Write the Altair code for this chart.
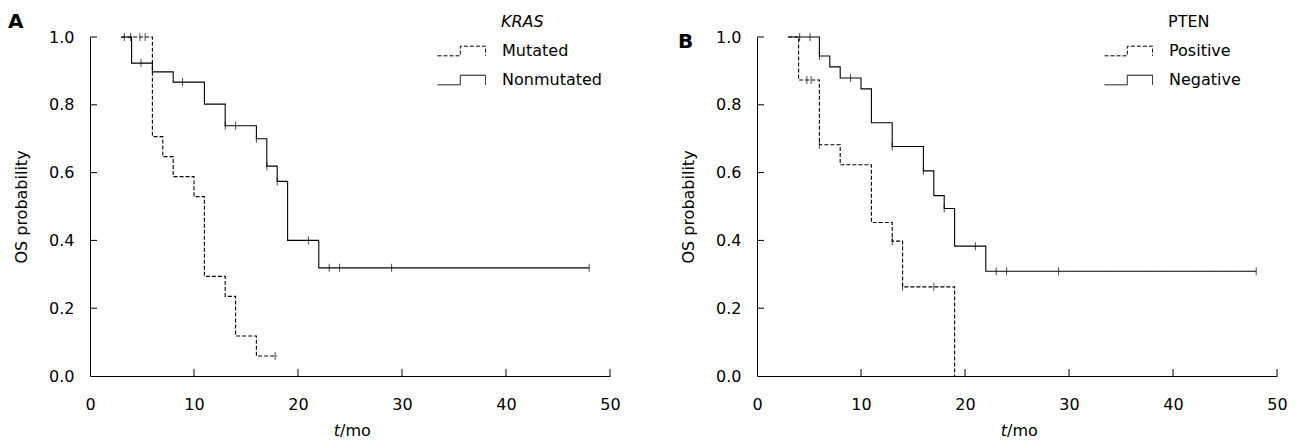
import altair as alt
import pandas as pd

# ---------------- data ----------------
X_TICKS = [0, 10, 20, 30, 40, 50]
Y_TICKS = [0.0, 0.2, 0.4, 0.6, 0.8, 1.0]
X_INNER_TICKS = [10, 20, 30, 40, 50]
Y_INNER_TICKS = [0.2, 0.4, 0.6, 0.8, 1.0]

# Panel A: KRAS
A_GROUPS = ["Mutated", "Nonmutated"]
A_MUT_T = [3, 6, 7, 8, 10, 11, 13, 14, 16, 18]
A_MUT_S = [1.0, 0.706, 0.647, 0.588, 0.529, 0.294, 0.235, 0.118, 0.059, 0.059]
A_MUT_CENS_T = [4.8, 5.3, 17.8]
A_MUT_CENS_S = [1.0, 1.0, 0.059]
A_NON_T = [3, 4, 6, 8, 11, 13, 16, 17, 18, 19, 22, 48]
A_NON_S = [1.0, 0.923, 0.897, 0.867, 0.802, 0.738, 0.700, 0.619, 0.574, 0.400, 0.319, 0.319]
A_NON_CENS_T = [3.3, 3.9, 4.9, 8.9, 13, 14, 16, 17, 18, 21, 23, 24, 29, 48]
A_NON_CENS_S = [1.0, 1.0, 0.923, 0.867, 0.738, 0.738, 0.700, 0.619, 0.574, 0.400,
                0.319, 0.319, 0.319, 0.319]

# Panel B: PTEN
B_GROUPS = ["Positive", "Negative"]
B_POS_T = [3, 4, 6, 8, 11, 13, 14, 19]
B_POS_S = [1.0, 0.873, 0.682, 0.623, 0.453, 0.398, 0.263, 0.0]
B_POS_CENS_T = [4.8, 5.2, 6, 13, 14, 17]
B_POS_CENS_S = [0.873, 0.873, 0.682, 0.398, 0.263, 0.263]
B_NEG_T = [3, 6, 7, 8, 10, 11, 13, 16, 17, 18, 19, 22, 48]
B_NEG_S = [1.0, 0.944, 0.912, 0.879, 0.847, 0.747, 0.677, 0.605, 0.532, 0.494,
           0.383, 0.309, 0.309]
B_NEG_CENS_T = [4.1, 5.1, 6, 9, 13, 16, 18, 21, 23, 24, 29, 48]
B_NEG_CENS_S = [1.0, 1.0, 0.944, 0.879, 0.677, 0.605, 0.494, 0.383, 0.309, 0.309,
                0.309, 0.309]

FONT = "DejaVu Sans"
W, H = 520, 339


def panel(letter, legend_title, title_style, groups, curves, censors):
    line_rows = []
    for name, T, S in curves:
        for t, s in zip(T, S):
            line_rows.append({"group": name, "t": t, "s": s})
    cens_rows = []
    for T, S in censors:
        for t, s in zip(T, S):
            cens_rows.append({"t": t, "s": s})
    ldf = pd.DataFrame(line_rows)
    cdf = pd.DataFrame(cens_rows)

    xs = alt.Scale(domain=[0, 50], nice=False)
    ys = alt.Scale(domain=[0, 1], nice=False)
    xax = alt.Axis(
        values=X_TICKS, ticks=False, grid=False, labelPadding=20, title=None,
        domainColor="black", labelFontSize=16, labelColor="black",
        labelFlush=False, format="d", labelFont=FONT)
    yax = alt.Axis(
        values=Y_TICKS, format=".1f", ticks=False, grid=False, labelPadding=16,
        title="OS probability", titlePadding=19, titleFontWeight="normal",
        titleFontSize=16, titleColor="black", domainColor="black",
        labelFontSize=16, labelColor="black", labelFont=FONT, titleFont=FONT)

    lines = alt.Chart(ldf).mark_line(
        interpolate="step-after", color="black", strokeWidth=1.1
    ).encode(
        x=alt.X("t:Q", scale=xs, axis=xax),
        y=alt.Y("s:Q", scale=ys, axis=yax),
        strokeDash=alt.StrokeDash("group:N", scale=alt.Scale(
            domain=groups, range=[[4, 2], [1, 0]]), legend=alt.Legend(
            title=None, orient="none", legendX=347, legendY=6,
            symbolType="M-1,0.2H-0.05V-0.2H1V0.2", symbolSize=2304,
            symbolStrokeWidth=1, symbolStrokeColor="black",
            symbolFillColor="transparent", clipHeight=16, rowPadding=13,
            labelOffset=16, labelFontSize=16, labelFont=FONT, labelColor="black")),
        detail="group:N",
    )

    cens = alt.Chart(cdf).mark_tick(
        orient="vertical", size=8, thickness=1, color="black"
    ).encode(
        x=alt.X("t:Q", scale=xs, axis=xax),
        y=alt.Y("s:Q", scale=ys, axis=yax),
    )

    xt = alt.Chart(pd.DataFrame({"t": X_INNER_TICKS})).mark_rule(
        color="black", strokeWidth=1
    ).encode(x=alt.X("t:Q", scale=xs, axis=xax), y=alt.value(H), y2=alt.value(H - 7))

    yt = alt.Chart(pd.DataFrame({"s": Y_INNER_TICKS})).mark_rule(
        color="black", strokeWidth=1
    ).encode(y=alt.Y("s:Q", scale=ys, axis=yax), x=alt.value(0), x2=alt.value(7))

    letter_txt = alt.Chart(pd.DataFrame({"txt": [letter[0]]})).mark_text(
        font=FONT, fontSize=20, fontWeight="bold", align="left", baseline="middle",
        color="black"
    ).encode(x=alt.value(letter[1]), y=alt.value(letter[2]), text="txt:N")

    leg_title = alt.Chart(pd.DataFrame({"txt": [legend_title]})).mark_text(
        font=FONT, fontSize=16, fontStyle=title_style, align="left",
        baseline="middle", color="black"
    ).encode(x=alt.value(411), y=alt.value(-15), text="txt:N")

    t_txt = alt.Chart(pd.DataFrame({"txt": ["t"]})).mark_text(
        font=FONT, fontSize=16, fontStyle="italic", align="right",
        baseline="middle", color="black"
    ).encode(x=alt.value(250), y=alt.value(H + 55), text="txt:N")
    mo_txt = alt.Chart(pd.DataFrame({"txt": ["/mo"]})).mark_text(
        font=FONT, fontSize=16, align="left", baseline="middle", color="black"
    ).encode(x=alt.value(250), y=alt.value(H + 55), text="txt:N")

    return alt.layer(lines, cens, xt, yt, letter_txt, leg_title, t_txt, mo_txt).properties(
        width=W, height=H
    )


pa = panel(("A", -82, -15), "KRAS", "italic", A_GROUPS,
           [("Mutated", A_MUT_T, A_MUT_S), ("Nonmutated", A_NON_T, A_NON_S)],
           [(A_MUT_CENS_T, A_MUT_CENS_S), (A_NON_CENS_T, A_NON_CENS_S)])
pb = panel(("B", -79, 5), "PTEN", "normal", B_GROUPS,
           [("Positive", B_POS_T, B_POS_S), ("Negative", B_NEG_T, B_NEG_S)],
           [(B_POS_CENS_T, B_POS_CENS_S), (B_NEG_CENS_T, B_NEG_CENS_S)])

chart = alt.hconcat(pa, pb, spacing=57).resolve_scale(
    strokeDash="independent", x="independent", y="independent"
).resolve_legend(strokeDash="independent").properties(
    background="white", padding={"left": 0, "top": 4, "right": 0, "bottom": 0}
).configure_view(stroke=None).configure_axis(
    labelFont=FONT, titleFont=FONT
)

chart.save("out.html", embed_options={"renderer": "svg", "actions": False})
